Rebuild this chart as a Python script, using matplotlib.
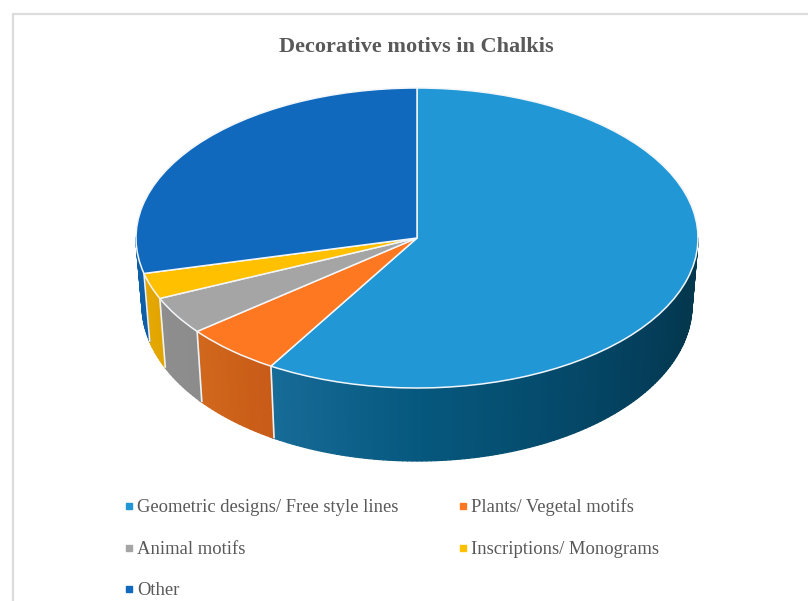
"""Pie chart of decorative motifs with a drawn-on side wall for the 3D look"""
import numpy as np
import matplotlib
matplotlib.use("Agg")
import matplotlib.pyplot as plt
from matplotlib.collections import PolyCollection
from matplotlib.colors import to_rgb
from matplotlib.lines import Line2D
from matplotlib.patches import Rectangle

LABELS = [
    "Geometric designs/ Free style lines",
    "Plants/ Vegetal motifs",
    "Animal motifs",
    "Inscriptions/ Monograms",
    "Other",
]
VALUES = [58.7, 5.6, 4.1, 2.8, 28.8]
COLORS = ["#2297d6", "#fe7721", "#a5a5a5", "#ffc000", "#1069bd"]
# wall shade along each slice, 0 at its clockwise start and 1 at its end
WALL_STOPS = [
    [(0.0, "#03384f"), (0.5, "#03384f"), (0.6, "#043f5c"), (0.85, "#06587e"), (1.0, "#176c98")],
    [(0.0, "#c85b18"), (1.0, "#d2681c")],
    [(0.0, "#8c8c8c"), (1.0, "#8e8e8e")],
    [(0.0, "#e2a400"), (1.0, "#e6a800")],
    [(0.0, "#0f5fa8"), (1.0, "#0f5fa8")],
]

W, H = 808, 601
CX, CY, RX, RY = 417, 238, 281, 150
# lower rim is a little narrower, for the perspective
LOW_CY, LOW_RX, LOW_RY = 305, 275, 156


def fx(px):
    return px / W


def fy(py):
    return 1 - py / H


def wall_colour(stops, frac):
    pos = [s[0] for s in stops]
    rgb = np.array([to_rgb(s[1]) for s in stops])
    return [np.interp(frac, pos, rgb[:, i]) for i in range(3)]


fig = plt.figure(figsize=(W / 100, H / 100), dpi=100)
ax = fig.add_axes([0, 0, 1, 1])

# walk the slices clockwise from twelve o'clock and draw the visible wall
edges = 90 - np.cumsum([0] + VALUES) / sum(VALUES) * 360
low_scale = np.array([LOW_RX / RX, LOW_RY / RY])
low_shift = (CY - LOW_CY) / RY

for i, stops in enumerate(WALL_STOPS):
    start, stop = edges[i], edges[i + 1]
    angles = np.append(np.arange(start, stop - 1, -1.0), stop)
    polys, cols = [], []
    for a, b in zip(angles[:-1], angles[1:]):
        # only the front half of the rim shows
        mid = np.radians((a + b) / 2) % (2 * np.pi)
        if mid < np.pi:
            continue
        ra, rb = np.radians(a), np.radians(b)
        polys.append([
            (np.cos(ra), np.sin(ra)),
            (np.cos(rb), np.sin(rb)),
            (np.cos(rb) * low_scale[0], np.sin(rb) * low_scale[1] + low_shift),
            (np.cos(ra) * low_scale[0], np.sin(ra) * low_scale[1] + low_shift),
        ])
        cols.append(wall_colour(stops, (start - a) / (start - stop)))
    if polys:
        ax.add_collection(PolyCollection(polys, facecolors=cols, edgecolors=cols, linewidths=0.9))

# white seams between the slices on the wall
for e in edges[1:-1]:
    r = np.radians(e)
    if np.sin(r) < 0:
        ax.plot(
            [np.cos(r), np.cos(r) * low_scale[0]],
            [np.sin(r), np.sin(r) * low_scale[1] + low_shift],
            color="#eef2f5",
            lw=1.2,
            solid_capstyle="butt",
        )

ax.pie(
    VALUES,
    colors=COLORS,
    startangle=90,
    counterclock=False,
    wedgeprops={"edgecolor": "#f2f6f9", "linewidth": 1.1},
)
ax.set_aspect("auto")
ax.set_xlim(-CX / RX, (W - CX) / RX)
ax.set_ylim((CY - H) / RY, CY / RY)
ax.axis("off")

# outer frame, open on the right and at the bottom
fig.add_artist(Line2D([fx(12.5), fx(12.5), fx(808)], [fy(601), fy(13.5), fy(13.5)],
                      color="#dcdcdc", lw=1.6, solid_joinstyle="miter"))

fig.text(fx(416), fy(45), "Decorative motivs in Chalkis", family="Liberation Serif",
         weight="bold", size=16, color="#595959", ha="center", va="center_baseline")

LEGEND_X = [137, 471]
LEGEND_Y = [506, 548, 589]
for i, (label, colour) in enumerate(zip(LABELS, COLORS)):
    x = LEGEND_X[i % 2]
    y = LEGEND_Y[i // 2]
    fig.add_artist(Rectangle((fx(x - 11.5), fy(y + 3)), 6 / W, 6 / H, color=colour,
                             transform=fig.transFigure))
    fig.text(fx(x), fy(y + 1.5), label, family="Liberation Serif", size=13.4, color="#595959",
             ha="left", va="center")

fig.savefig("out.png", dpi=100)
